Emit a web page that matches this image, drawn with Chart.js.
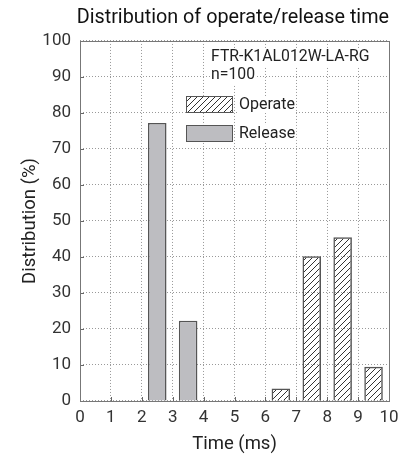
<!DOCTYPE html>
<html>
<head>
<meta charset="utf-8">
<script src="https://cdn.jsdelivr.net/npm/chart.js@4"></script>
<style>
  html, body { margin: 0; padding: 0; background: #fff; }
  #wrap { width: 419px; height: 461px; }
</style>
</head>
<body>
<div id="wrap"><canvas id="c" width="419" height="461"></canvas></div>
<script>
const FONT = "Roboto, 'Noto Sans', sans-serif";

const binCenters = [2.5, 3.5, 6.5, 7.5, 8.5, 9.5];
const operateValues = [null, null, 3.5, 40.2, 45.5, 9.5];
const releaseValues = [77.2, 22.3, null, null, null, null];
const xTicks = [0, 1, 2, 3, 4, 5, 6, 7, 8, 9, 10];
const yTicks = [0, 10, 20, 30, 40, 50, 60, 70, 80, 90, 100];
const modelLabel = 'FTR-K1AL012W-LA-RG';
const sampleLabel = 'n=100';

function toPoints(vals) {
  return binCenters.map((x, i) => ({ x: x, y: vals[i] })).filter(p => p.y !== null);
}

// diagonal hatching for the operate bars
function hatch() {
  const p = document.createElement('canvas');
  p.width = 6; p.height = 6;
  const g = p.getContext('2d');
  g.strokeStyle = '#333';
  g.lineWidth = 1;
  g.beginPath();
  g.moveTo(0, 6); g.lineTo(6, 0);
  g.moveTo(-1, 1); g.lineTo(1, -1);
  g.moveTo(5, 7); g.lineTo(7, 5);
  g.stroke();
  return g.createPattern(p, 'repeat');
}
const hatchFill = hatch();

const frame = {
  id: 'frame',
  afterDatasetsDraw(chart) {
    const { ctx, chartArea: a, scales } = chart;
    ctx.save();
    ctx.strokeStyle = '#666';
    ctx.lineWidth = 1;
    // inward tick marks
    ctx.beginPath();
    yTicks.forEach(v => {
      const y = Math.round(scales.y.getPixelForValue(v)) + 0.5;
      ctx.moveTo(a.left, y); ctx.lineTo(a.left + 4, y);
    });
    xTicks.forEach(v => {
      const x = Math.round(scales.x.getPixelForValue(v)) + 0.5;
      ctx.moveTo(x, a.bottom); ctx.lineTo(x, a.bottom - 4);
    });
    ctx.stroke();
    ctx.strokeStyle = '#777';
    ctx.strokeRect(Math.round(a.left) + 0.5, Math.round(a.top) + 0.5,
      Math.round(a.right - a.left), Math.round(a.bottom - a.top));

    // annotation + legend inside the plot
    ctx.font = '15.8px ' + FONT;
    ctx.textBaseline = 'middle';
    ctx.textAlign = 'left';
    const tx = 211;
    [[modelLabel, 57], [sampleLabel, 75]].forEach(([t, y]) => {
      const w = ctx.measureText(t).width;
      ctx.fillStyle = '#fff';
      ctx.fillRect(tx - 1, y - 9, w + 2, 18);
      ctx.fillStyle = '#222';
      ctx.fillText(t, tx, y);
    });
    ctx.font = '16px ' + FONT;
    const items = [
      ['Operate', hatchFill, 96],
      ['Release', '#bdbdc1', 125]
    ];
    items.forEach(([t, fill, y]) => {
      ctx.fillStyle = '#fff';
      ctx.fillRect(186, y, 47, 17);
      ctx.fillStyle = fill;
      ctx.fillRect(186, y, 47, 17);
      ctx.strokeStyle = '#555';
      ctx.strokeRect(186.5, y + 0.5, 46, 16);
      const w = ctx.measureText(t).width;
      ctx.fillStyle = '#fff';
      ctx.fillRect(238, y, w + 2, 17);
      ctx.fillStyle = '#222';
      ctx.fillText(t, 239, y + 9);
    });
    ctx.restore();
  }
};

new Chart(document.getElementById('c'), {
  type: 'bar',
  data: {
    datasets: [
      {
        label: 'Operate',
        data: toPoints(operateValues),
        backgroundColor: hatchFill,
        borderColor: '#555',
        borderWidth: 1.5
      },
      {
        label: 'Release',
        data: toPoints(releaseValues),
        backgroundColor: '#bdbdc1',
        borderColor: '#555',
        borderWidth: 1.5
      }
    ]
  },
  options: {
    responsive: false,
    animation: false,
    layout: { padding: { left: 0, right: 30, top: 0, bottom: 0 } },
    datasets: { bar: { grouped: false, barPercentage: 0.6, categoryPercentage: 1 } },
    plugins: {
      legend: { display: false },
      tooltip: { enabled: false },
      title: {
        display: true,
        text: 'Distribution of operate/release time',
        color: '#111',
        font: { family: FONT, size: 19.8, weight: 'normal', lineHeight: 1.2 },
        padding: { top: 6, bottom: 11.2 },
        align: 'end'
      }
    },
    scales: {
      x: {
        type: 'linear',
        offset: false,
        min: 0, max: 10,
        afterBuildTicks: s => { s.ticks = xTicks.map(v => ({ value: v })); },
        afterFit: s => { s.height = 60; },
        ticks: { color: '#333', padding: 7, font: { family: FONT, size: 17 } },
        grid: { color: '#999', drawTicks: false, offset: false },
        border: { display: false, dash: [1, 2] },
        title: {
          display: true, text: 'Time (ms)', color: '#222',
          font: { family: FONT, size: 18.5 }, padding: { top: 0, bottom: 6 }
        }
      },
      y: {
        min: 0, max: 100,
        afterBuildTicks: s => { s.ticks = yTicks.map(v => ({ value: v })); },
        afterFit: s => { s.width = 80; },
        ticks: { color: '#333', padding: 9, font: { family: FONT, size: 17 } },
        grid: { color: '#999', drawTicks: false },
        border: { display: false, dash: [1, 2] },
        title: {
          display: true, text: 'Distribution (%)', color: '#222',
          font: { family: FONT, size: 18.5 }, padding: { top: 19, bottom: 0 }
        }
      }
    }
  },
  plugins: [frame]
});
</script>
</body>
</html>
